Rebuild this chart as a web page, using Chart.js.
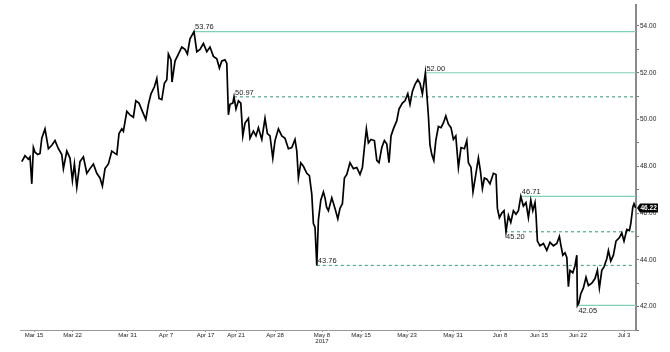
<!DOCTYPE html>
<html>
<head>
<meta charset="utf-8">
<script src="https://cdn.jsdelivr.net/npm/chart.js@4.4.1/dist/chart.umd.min.js"></script>
<style>
  html, body { margin: 0; padding: 0; background: #fff; }
  #wrap { width: 670px; height: 352px; }
</style>
</head>
<body>
<div id="wrap"><canvas id="chart"></canvas></div>
<script>
// Price path: position on the trading-time axis + price.
const barPos = [
  0.9, 2.5, 4.2, 5, 5.9, 6.7, 7.5, 8.9, 10, 10.9,
  12.5, 14.2, 15.9, 17.5, 19.2, 20.9, 21.7, 23.4, 25, 26.2,
  27.2, 28.4, 30, 31.7, 33.4, 35, 36.7, 38.4, 40, 41.2,
  42.5, 44.2, 45.9, 47.5, 48.4, 49.5, 50.9, 51.7, 53.4, 55,
  56.7, 57.9, 59.5, 61.2, 62.9, 64.2, 65.5, 67.2, 68.4, 69.5,
  70.9, 72.2, 73.4, 74.2, 75.5, 76, 77.5, 79.2, 80.9, 82.5,
  83.7, 85, 87, 88.4, 90, 91.7, 93.4, 95, 96.7, 98.4,
  99.7, 100.9, 102.5, 103.4, 104.2, 105, 106.4, 107, 108, 109.2,
  110.4, 111.4, 112.5, 114.2, 115, 116.7, 118, 119.2, 120.9, 122.5,
  123.7, 125, 126.4, 127.5, 129.2, 130.9, 132.5, 134.2, 135.9, 137.5,
  138.4, 139.2, 140.4, 141.7, 143.4, 144.7, 145.9, 146.7, 147.5, 148.4,
  149.2, 150.4, 151.7, 152.5, 153.3, 154.2, 155.9, 157.5, 158.9, 160,
  161.2, 162.2, 163.4, 165, 166.7, 168.4, 170, 171.2, 172.2, 173.2,
  174.2, 175.5, 177.2, 178.4, 179.5, 180.9, 182.2, 183.4, 184.5, 185.5,
  186.7, 188.4, 189.5, 191.2, 192.5, 193.9, 195, 196.2, 197.5, 198.9,
  200, 201.2, 202.7, 203.4, 204.2, 205, 205.9, 206.9, 207.9, 209.2,
  210.5, 211.7, 212.9, 214.2, 215.5, 216.7, 217.9, 219.2, 220.5, 222.2,
  223.4, 224.2, 225.5, 226.5, 227.9, 229.2, 230.2, 231.2, 232.2, 233.4,
  235, 236.7, 238, 238.7, 239.7, 240.9, 242, 243, 244.2, 245.4,
  246.7, 248, 249.2, 250.4, 251.7, 253, 254.2, 255.4, 256.4, 257.5,
  258, 258.7, 260, 261.7, 263.4, 265, 266.7, 268.4, 269.7, 270.5,
  271.4, 272.5, 273.4, 274.2, 275, 276.4, 277.5, 278.4, 278.7, 279.4,
  280.4, 281.7, 283, 284.2, 285.9, 287.5, 288.7, 289.7, 290.9, 292,
  293.4, 294.2, 295.4, 296.7, 298, 299.7, 300.9, 302, 303.4, 304.7,
  305.4, 306.4, 307, 307.8
];
const price = [
  48.2, 48.45, 48.3, 48.4, 47.25, 48.8, 48.6, 48.5, 48.55, 49.2,
  49.6, 48.75, 48.9, 49.1, 48.75, 48.5, 47.9, 48.65, 48.35, 47.4,
  48.1, 47.1, 48.2, 48.4, 47.7, 47.9, 48.1, 47.7, 47.5, 47.15,
  47.9, 48.1, 48.65, 48.55, 48.5, 49.4, 49.6, 49.5, 50.35, 50.2,
  50.1, 50.8, 50.7, 50.35, 50.0, 50.65, 51.1, 51.4, 51.75, 50.9,
  50.85, 51.55, 51.7, 52.8, 52.55, 51.6, 52.5, 52.8, 53.1, 53.0,
  52.8, 53.45, 53.76, 52.9, 53.0, 53.25, 52.9, 53.1, 52.7, 52.6,
  52.2, 52.5, 52.55, 52.4, 50.2, 50.65, 50.7, 50.97, 50.45, 50.8,
  50.7, 49.3, 49.85, 50.05, 49.2, 49.5, 49.3, 49.65, 49.15, 50.05,
  49.4, 49.3, 48.35, 49.1, 49.6, 49.3, 49.2, 48.75, 48.8, 49.15,
  48.65, 47.5, 48.15, 48.0, 47.7, 47.6, 46.8, 45.55, 45.4, 43.76,
  45.7, 46.55, 46.9, 46.65, 46.25, 46.1, 46.65, 46.2, 45.75, 46.2,
  46.4, 47.5, 47.65, 48.15, 47.9, 47.95, 47.65, 47.95, 48.8, 49.6,
  49.0, 49.15, 49.1, 48.25, 48.15, 48.8, 49.1, 48.95, 48.15, 49.3,
  49.6, 49.95, 50.45, 50.7, 50.8, 51.1, 50.65, 51.2, 51.5, 51.7,
  51.55, 51.1, 52.0, 51.1, 50.15, 48.9, 48.5, 48.25, 49.1, 49.7,
  49.65, 49.85, 50.15, 49.8, 49.65, 49.15, 49.3, 47.95, 48.8, 48.75,
  49.1, 48.15, 47.95, 46.9, 47.65, 48.35, 47.8, 47.05, 47.5, 47.45,
  47.25, 47.7, 47.65, 46.2, 45.8, 46.0, 46.1, 45.2, 45.9, 45.6,
  46.1, 45.95, 46.1, 46.71, 46.3, 46.45, 45.8, 46.55, 46.1, 46.45,
  45.95, 44.8, 44.6, 44.7, 44.4, 44.75, 44.6, 44.7, 45.0, 44.6,
  44.2, 44.3, 44.1, 42.85, 43.55, 43.45, 43.75, 44.2, 42.05, 42.15,
  42.55, 42.8, 43.25, 42.9, 43.0, 43.2, 43.55, 42.8, 43.55, 43.7,
  44.05, 44.4, 43.95, 44.2, 44.8, 44.95, 45.15, 44.8, 45.3, 45.25,
  45.55, 46.25, 46.4, 46.22
];

// Highs/lows marked with a horizontal level, and where each one occurred.
const levelValues = [53.76, 52.0, 50.97, 46.71, 45.2, 43.76, 42.05];
const levelFrom = [87, 202.7, 107, 250.4, 242.5, 148.4, 278.7];

const lastPrice = 46.22;

// Axis ticks
const xTickPos = [7, 26.3, 53.8, 73, 92.8, 108, 127.5, 151, 170.5, 193.5, 216.5, 240, 259.5, 279, 302];
const xTickLabels = [
  "Mar 15", "Mar 22", "Mar 31", "Apr 7", "Apr 17", "Apr 21", "Apr 28",
  ["May 8", "2017"], "May 15", "May 23", "May 31", "Jun 8", "Jun 15", "Jun 22", "Jul 3"
];
const yTickValues = [41, 42, 43, 44, 45, 46, 47, 48, 49, 50, 51, 52, 53, 54];

(function () {
  "use strict";

  const FONT = '"Liberation Sans", Arial, sans-serif';
  const SOLID = "#7fd0b8";
  const DASHED = "#4fa98f";

  // per level: dashed line? label under the line?
  const LEVEL_STYLE = [
    { dashed: false, below: false },
    { dashed: false, below: false },
    { dashed: true, below: false },
    { dashed: false, below: false },
    { dashed: true, below: true },
    { dashed: true, below: false },
    { dashed: false, below: true },
  ];

  const levelSets = levelValues.map((v, i) => ({
    data: [{ x: levelFrom[i], y: v }, { x: 308, y: v }],
    borderColor: LEVEL_STYLE[i].dashed ? DASHED : SOLID,
    borderWidth: 1.2,
    borderDash: LEVEL_STYLE[i].dashed ? [3, 3] : [],
    pointRadius: 0,
    order: 1,
  }));

  // Level values written at the start of each line
  const levelLabels = {
    id: "levelLabels",
    afterDatasetsDraw(chart) {
      const ctx = chart.ctx;
      ctx.save();
      ctx.font = "7.5px " + FONT;
      ctx.fillStyle = "#222";
      ctx.textAlign = "left";
      levelValues.forEach((v, i) => {
        const p = chart.getDatasetMeta(i + 1).data[0];
        const below = LEVEL_STYLE[i].below;
        ctx.textBaseline = below ? "top" : "bottom";
        ctx.fillText(v.toFixed(2), p.x + 1, below ? p.y + 1.5 : p.y - 0.5);
      });
      ctx.restore();
    },
  };

  // Black last-price tag on the right axis
  const priceTag = {
    id: "priceTag",
    afterDraw(chart) {
      const ctx = chart.ctx;
      const y = chart.scales.y.getPixelForValue(lastPrice);
      const x = chart.chartArea.right + 1;
      ctx.save();
      ctx.fillStyle = "#000";
      ctx.beginPath();
      ctx.moveTo(x, y);
      ctx.lineTo(x + 3, y - 4.5);
      ctx.lineTo(x + 21, y - 4.5);
      ctx.lineTo(x + 21, y + 4.5);
      ctx.lineTo(x + 3, y + 4.5);
      ctx.closePath();
      ctx.fill();
      ctx.fillStyle = "#fff";
      ctx.font = "bold 6.5px " + FONT;
      ctx.textBaseline = "middle";
      ctx.fillText(lastPrice.toFixed(2), x + 3.5, y + 0.5);
      ctx.restore();
    },
  };

  new Chart(document.getElementById("chart"), {
    type: "line",
    data: {
      datasets: [
        {
          data: barPos.map((x, i) => ({ x, y: price[i] })),
          borderColor: "#000",
          borderWidth: 1.7,
          pointRadius: 0,
          tension: 0,
          order: 0,
        },
        ...levelSets,
      ],
    },
    options: {
      responsive: true,
      maintainAspectRatio: false,
      animation: false,
      layout: { padding: { left: 20, top: 3, right: 0, bottom: 0 } },
      plugins: {
        legend: { display: false },
        tooltip: { enabled: false },
      },
      scales: {
        x: {
          type: "linear",
          min: 0,
          max: 308,
          afterBuildTicks: (axis) => {
            axis.ticks = xTickPos.map((v) => ({ value: v }));
          },
          afterFit: (axis) => {
            axis.height = 22;
          },
          grid: { display: true, drawOnChartArea: false, tickLength: 2, color: "#999" },
          border: { display: true, color: "#999", width: 1 },
          ticks: {
            autoSkip: false,
            maxRotation: 0,
            padding: 0,
            color: "#222",
            font: { family: FONT, size: 6, lineHeight: 1.05 },
            callback: (v, i) => xTickLabels[i],
          },
        },
        y: {
          position: "right",
          min: 41,
          max: 54.9,
          afterBuildTicks: (axis) => {
            axis.ticks = yTickValues.map((v) => ({ value: v }));
          },
          afterFit: (axis) => {
            axis.width = 34;
          },
          grid: { display: true, drawOnChartArea: false, tickLength: 3, color: "#777" },
          border: { display: true, color: "#8a8a8a", width: 2 },
          ticks: {
            padding: 1,
            color: "#222",
            font: { family: FONT, size: 6.5 },
            callback: (v) => (v % 2 === 0 ? v.toFixed(2) : ""),
          },
        },
      },
    },
    plugins: [levelLabels, priceTag],
  });
})();
</script>
</body>
</html>
